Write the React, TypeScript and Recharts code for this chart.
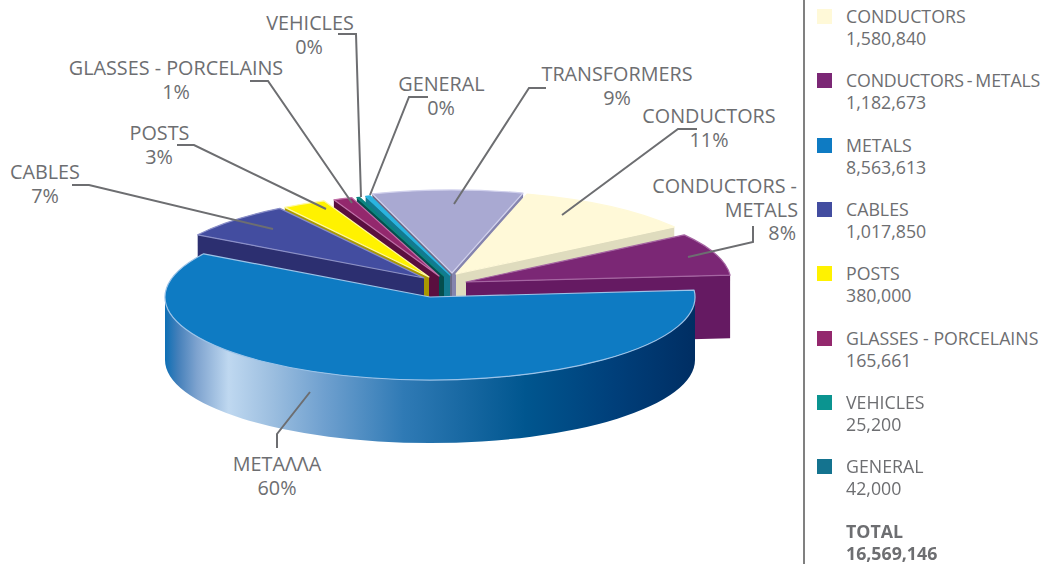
import React from "react";
import { PieChart, Pie, Legend } from "recharts";

const categories = ["TRANSFORMERS", "CONDUCTORS", "CONDUCTORS - METALS", "METALS", "CABLES", "POSTS", "GLASSES - PORCELAINS", "VEHICLES", "GENERAL"];
const values = [1310000, 1580840, 1182673, 8563613, 1017850, 380000, 165661, 25200, 42000];
const legendValues = ["", "1,580,840", "1,182,673", "8,563,613", "1,017,850", "380,000", "165,661", "25,200", "42,000"];
const totalLabel = "TOTAL";
const totalValue = "16,569,146";
const topColors = ["#a9a9d2", "#fff9d8", "#7b2775", "#0e7bc3", "#434da0", "#fff200", "#93286d", "#0b8480", "#2ab4e0"];
const legendColors = ["#a9a9d2", "#fff9d8", "#7b2775", "#0e7bc3", "#434da0", "#fff200", "#93286d", "#0b9490", "#14738f"];
const edgeColors = ["#d0d0ec", "#fff9d8", "#a565a2", "#9cc3e8", "#8a8fc8", "#fff9a0", "#c070a8", "#0b8480", "#2ab4e0"];
const wallColors = ["#8584ae", "#dfdcbe", "#651a62", "", "#2c2f70", "#aa9800", "#5a0f3f", "#044e4e", "#137a90"];
const labelLines = [["TRANSFORMERS"], ["CONDUCTORS"], ["CONDUCTORS -", "METALS"], ["ΜΕΤΑΛΛΑ"], ["CABLES"], ["POSTS"], ["GLASSES - PORCELAINS"], ["VEHICLES"], ["GENERAL"]];

// layout
const W = 1041, H = 564;
const CX = 430, CY = 297, RX = 265, RY = 83, DEPTH = 63;
// per-slice explosion, relative to the pie centre
const explode = [[22, -24], [26, -23], [36, -15], [0, 0], [-6, -19], [-1, -20], [9, -21], [14, -21], [20, -22]];
// walls shown: cut at the start of the slice, cut at the end of it
const wallSide: Record<number, string[]> = { 0: ["start", "end"], 1: ["end"], 2: ["end"], 4: ["start"], 5: ["start"], 6: ["start"], 7: ["start"], 8: ["start"] };
const paintOrder = [0, 1, 2, 8, 7, 6, 5, 4, 3];
const labelBoxes = [
  { x: 617, y: 81, anchor: "middle", pct: 617, line: [[546, 88], [529, 88], [454, 204]] },
  { x: 709, y: 123, anchor: "middle", pct: 709, line: [[697, 129], [678, 129], [562, 215]] },
  { x: 797, y: 193, anchor: "end", pct: 796, x2: 798, line: [[753, 226], [753, 242], [688, 257]] },
  { x: 277, y: 471, anchor: "middle", pct: 277, line: [[277, 448], [277, 434], [310, 392]] },
  { x: 45, y: 179, anchor: "middle", pct: 45, line: [[72, 185], [89, 185], [273, 229]] },
  { x: 159.5, y: 140, anchor: "middle", pct: 159, line: [[177, 145], [194, 145], [326, 209]] },
  { x: 176, y: 75, anchor: "middle", pct: 176, line: [[250, 81], [268, 81], [352, 203]] },
  { x: 310, y: 30, anchor: "middle", pct: 309, line: [[338, 34], [356, 34], [361, 197]] },
  { x: 441.5, y: 91, anchor: "middle", pct: 441, line: [[428, 97], [409, 97], [370, 195]] },
];
const LABEL_FONT = 19.8, LEGEND_FONT = 17.75;
const legendTighten: Record<number, { wordSpacing: number; letterSpacing: number }> = { 2: { wordSpacing: -1.5, letterSpacing: -0.17 } };
const FONT = "'Open Sans', sans-serif";
const INK = "#6d6e71";

const rad = (a: number) => (a * Math.PI) / 180;

function Slice(p: any) {
  const i = p.index as number;
  const [ox, oy] = explode[i];
  const ax = p.cx + ox, ay = p.cy + oy;
  const pt = (a: number) => [ax + RX * Math.cos(rad(a)), ay - RY * Math.sin(rad(a))];
  const s = pt(p.startAngle), e = pt(p.endAngle);
  const large = Math.abs(p.startAngle - p.endAngle) > 180 ? 1 : 0;
  const top = `M${ax},${ay}L${s[0]},${s[1]}A${RX},${RY} 0 ${large} 1 ${e[0]},${e[1]}Z`;
  const quad = (q: number[]) => `M${ax},${ay}L${q[0]},${q[1]}L${q[0]},${q[1] + DEPTH}L${ax},${ay + DEPTH}Z`;
  const sides = wallSide[i] || [];
  return (
    <g>
      {i === 3 && (
        <path
          d={`M${ax + RX},${ay}A${RX},${RY} 0 0 1 ${ax - RX},${ay}L${ax - RX},${ay + DEPTH}A${RX},${RY} 0 0 0 ${ax + RX},${ay + DEPTH}Z`}
          fill="url(#metalRim)"
        />
      )}
      {sides.includes("start") && <path d={quad(s)} fill={i === 0 ? "#6b6b88" : wallColors[i]} />}
      {sides.includes("end") && <path d={quad(e)} fill={wallColors[i]} />}
      <path d={top} fill={topColors[i]} stroke={edgeColors[i]} strokeWidth={1.2} strokeLinejoin="round" />
    </g>
  );
}

function PieLabel(p: any) {
  const i = p.index as number;
  const b = labelBoxes[i] as any;
  const lines = labelLines[i];
  return (
    <g fontFamily={FONT} fontSize={LABEL_FONT} fill={INK}>
      <polyline points={b.line.map((q: number[]) => q.join(",")).join(" ")} fill="none" stroke={INK} strokeWidth={2} />
      {lines.map((t, n) => (
        <text key={t} x={n === 1 ? b.x2 : b.x} y={b.y + n * 23.6} textAnchor={b.anchor}>{t}</text>
      ))}
      <text x={b.pct} y={b.y + lines.length * 23.6} textAnchor={b.anchor}>{Math.round(p.percent * 100)}%</text>
    </g>
  );
}

function LegendBox() {
  const rows = [1, 2, 3, 4, 5, 6, 7, 8];
  return (
    <div style={{ position: "relative", width: 237, height: H, fontFamily: FONT, fontSize: LEGEND_FONT, color: INK, lineHeight: "22px", borderLeft: "2px solid #808080", boxSizing: "border-box" }}>
      {rows.map((r, n) => (
        <div key={r} style={{ position: "absolute", top: 5 + n * 64.3, left: 12, whiteSpace: "nowrap" }}>
          <span style={{ position: "absolute", left: 0, top: 4, width: 15, height: 15, background: legendColors[r] }} />
          <div style={{ marginLeft: 29, ...(legendTighten[r] || {}) }}>{categories[r]}</div>
          <div style={{ marginLeft: 29 }}>{legendValues[r]}</div>
        </div>
      ))}
      <div style={{ position: "absolute", top: 6 + 8 * 64.3, left: 41, fontWeight: 700, whiteSpace: "nowrap" }}>
        <div>{totalLabel}</div>
        <div>{totalValue}</div>
      </div>
    </div>
  );
}

export default function App() {
  const data = categories.map((name, i) => ({ name, value: values[i] }));
  return (
    <div style={{ position: "fixed", left: 0, top: 0, width: W, height: H, background: "#fff" }}>
      <PieChart width={W} height={H} margin={{ top: 0, right: 0, bottom: 0, left: 0 }}>
        <defs>
          <linearGradient id="metalRim" gradientUnits="userSpaceOnUse" x1={CX - RX} x2={CX + RX} y1={0} y2={0}>
            <stop offset="0" stopColor="#0d6fb5" />
            <stop offset="0.025" stopColor="#4580ba" />
            <stop offset="0.06" stopColor="#7ea3cf" />
            <stop offset="0.12" stopColor="#bfd8f0" />
            <stop offset="0.2" stopColor="#9dbfe0" />
            <stop offset="0.3" stopColor="#6fa0cf" />
            <stop offset="0.45" stopColor="#2f7ab5" />
            <stop offset="0.68" stopColor="#00568f" />
            <stop offset="0.85" stopColor="#003f7a" />
            <stop offset="1" stopColor="#002e63" />
          </linearGradient>
        </defs>
        {paintOrder.map((idx, n) => (
          <Pie
            key={categories[idx]}
            data={data}
            dataKey="value"
            nameKey="name"
            cx={CX}
            cy={CY}
            innerRadius={0}
            outerRadius={RX}
            startAngle={107.5}
            endAngle={-252.5}
            isAnimationActive={false}
            labelLine={false}
            label={n === paintOrder.length - 1 ? PieLabel : false}
            shape={(p: any) => (p.index === idx ? <Slice {...p} /> : <g />)}
          />
        ))}
        <Legend
          content={() => <LegendBox />}
          wrapperStyle={{ position: "absolute", left: 803, top: 0, width: 237, height: H }}
        />
      </PieChart>
    </div>
  );
}
